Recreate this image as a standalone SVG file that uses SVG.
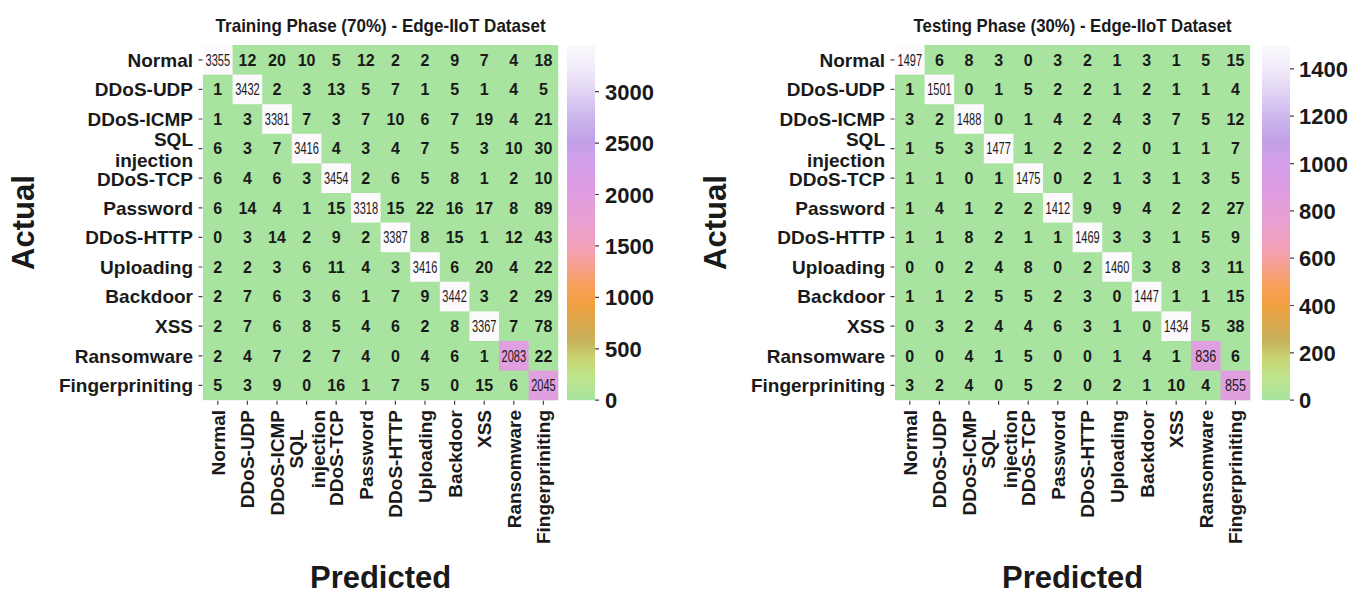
<svg xmlns="http://www.w3.org/2000/svg" width="1367" height="596" viewBox="0 0 1367 596">
<style>
text{font-family:"Liberation Sans",Arial,Helvetica,sans-serif;fill:#1a1a1a}
.cells text{font-size:16px;font-weight:700;text-anchor:middle}
.cells text.d{font-size:16px;font-weight:400}
.rl text{font-size:19px;font-weight:700;text-anchor:end}
.ck text{font-size:22px;font-weight:700}
.ax{font-size:31px;font-weight:700;text-anchor:middle}
.ti{font-size:19px;font-weight:700;text-anchor:middle}
.tk{stroke:#444;stroke-width:1.2}
.dg{fill:#fcfafd}
.hi{fill:#e0a0e0}
.bg{fill:#a8e4a0}
</style>
<defs>
<linearGradient id="cmap" x1="0" y1="1" x2="0" y2="0">
<stop offset="0" stop-color="#a6e4a0"/>
<stop offset="0.07" stop-color="#c0e48a"/>
<stop offset="0.12" stop-color="#c8d470"/>
<stop offset="0.17" stop-color="#c8b058"/>
<stop offset="0.21" stop-color="#d8a850"/>
<stop offset="0.27" stop-color="#f2a040"/>
<stop offset="0.32" stop-color="#f6a058"/>
<stop offset="0.38" stop-color="#f6a092"/>
<stop offset="0.43" stop-color="#f4a0b8"/>
<stop offset="0.5" stop-color="#e8a0d0"/>
<stop offset="0.58" stop-color="#e09ce0"/>
<stop offset="0.67" stop-color="#d4a0ec"/>
<stop offset="0.73" stop-color="#c0a0e8"/>
<stop offset="0.8" stop-color="#cdb8ee"/>
<stop offset="0.88" stop-color="#e4d8f4"/>
<stop offset="0.95" stop-color="#f4eff9"/>
<stop offset="1" stop-color="#fbf9fd"/>
</linearGradient>
</defs>
<rect width="1367" height="596" fill="#ffffff"/>

<!-- LEFT PANEL: Training -->
<g id="training">
<text class="ti" x="380.6" y="32" textLength="330" lengthAdjust="spacingAndGlyphs">Training Phase (70%) - Edge-IIoT Dataset</text>
<g id="train-grid">
<rect class="bg" x="203" y="45" width="355.2" height="355.2"/>
<rect class="dg" x="203" y="45" width="29.6" height="29.6"/>
<rect class="dg" x="232.6" y="74.6" width="29.6" height="29.6"/>
<rect class="dg" x="262.2" y="104.2" width="29.6" height="29.6"/>
<rect class="dg" x="291.8" y="133.8" width="29.6" height="29.6"/>
<rect class="dg" x="321.4" y="163.4" width="29.6" height="29.6"/>
<rect class="dg" x="351" y="193" width="29.6" height="29.6"/>
<rect class="dg" x="380.6" y="222.6" width="29.6" height="29.6"/>
<rect class="dg" x="410.2" y="252.2" width="29.6" height="29.6"/>
<rect class="dg" x="439.8" y="281.8" width="29.6" height="29.6"/>
<rect class="dg" x="469.4" y="311.4" width="29.6" height="29.6"/>
<rect class="hi" x="499" y="341" width="29.6" height="29.6"/>
<rect class="hi" x="528.6" y="370.6" width="29.6" height="29.6"/>
</g>
<g class="cells" id="train-values">
<g transform="translate(0,65.6)"><text class="d" x="217.8" textLength="24.5" lengthAdjust="spacingAndGlyphs">3355</text><text x="247.4">12</text><text x="277">20</text><text x="306.6">10</text><text x="336.2">5</text><text x="365.8">12</text><text x="395.4">2</text><text x="425">2</text><text x="454.6">9</text><text x="484.2">7</text><text x="513.8">4</text><text x="543.4">18</text></g>
<g transform="translate(0,95.2)"><text x="217.8">1</text><text class="d" x="247.4" textLength="24.5" lengthAdjust="spacingAndGlyphs">3432</text><text x="277">2</text><text x="306.6">3</text><text x="336.2">13</text><text x="365.8">5</text><text x="395.4">7</text><text x="425">1</text><text x="454.6">5</text><text x="484.2">1</text><text x="513.8">4</text><text x="543.4">5</text></g>
<g transform="translate(0,124.8)"><text x="217.8">1</text><text x="247.4">3</text><text class="d" x="277" textLength="24.5" lengthAdjust="spacingAndGlyphs">3381</text><text x="306.6">7</text><text x="336.2">3</text><text x="365.8">7</text><text x="395.4">10</text><text x="425">6</text><text x="454.6">7</text><text x="484.2">19</text><text x="513.8">4</text><text x="543.4">21</text></g>
<g transform="translate(0,154.4)"><text x="217.8">6</text><text x="247.4">3</text><text x="277">7</text><text class="d" x="306.6" textLength="24.5" lengthAdjust="spacingAndGlyphs">3416</text><text x="336.2">4</text><text x="365.8">3</text><text x="395.4">4</text><text x="425">7</text><text x="454.6">5</text><text x="484.2">3</text><text x="513.8">10</text><text x="543.4">30</text></g>
<g transform="translate(0,184)"><text x="217.8">6</text><text x="247.4">4</text><text x="277">6</text><text x="306.6">3</text><text class="d" x="336.2" textLength="24.5" lengthAdjust="spacingAndGlyphs">3454</text><text x="365.8">2</text><text x="395.4">6</text><text x="425">5</text><text x="454.6">8</text><text x="484.2">1</text><text x="513.8">2</text><text x="543.4">10</text></g>
<g transform="translate(0,213.6)"><text x="217.8">6</text><text x="247.4">14</text><text x="277">4</text><text x="306.6">1</text><text x="336.2">15</text><text class="d" x="365.8" textLength="24.5" lengthAdjust="spacingAndGlyphs">3318</text><text x="395.4">15</text><text x="425">22</text><text x="454.6">16</text><text x="484.2">17</text><text x="513.8">8</text><text x="543.4">89</text></g>
<g transform="translate(0,243.2)"><text x="217.8">0</text><text x="247.4">3</text><text x="277">14</text><text x="306.6">2</text><text x="336.2">9</text><text x="365.8">2</text><text class="d" x="395.4" textLength="24.5" lengthAdjust="spacingAndGlyphs">3387</text><text x="425">8</text><text x="454.6">15</text><text x="484.2">1</text><text x="513.8">12</text><text x="543.4">43</text></g>
<g transform="translate(0,272.8)"><text x="217.8">2</text><text x="247.4">2</text><text x="277">3</text><text x="306.6">6</text><text x="336.2">11</text><text x="365.8">4</text><text x="395.4">3</text><text class="d" x="425" textLength="24.5" lengthAdjust="spacingAndGlyphs">3416</text><text x="454.6">6</text><text x="484.2">20</text><text x="513.8">4</text><text x="543.4">22</text></g>
<g transform="translate(0,302.4)"><text x="217.8">2</text><text x="247.4">7</text><text x="277">6</text><text x="306.6">3</text><text x="336.2">6</text><text x="365.8">1</text><text x="395.4">7</text><text x="425">9</text><text class="d" x="454.6" textLength="24.5" lengthAdjust="spacingAndGlyphs">3442</text><text x="484.2">3</text><text x="513.8">2</text><text x="543.4">29</text></g>
<g transform="translate(0,332)"><text x="217.8">2</text><text x="247.4">7</text><text x="277">6</text><text x="306.6">8</text><text x="336.2">5</text><text x="365.8">4</text><text x="395.4">6</text><text x="425">2</text><text x="454.6">8</text><text class="d" x="484.2" textLength="24.5" lengthAdjust="spacingAndGlyphs">3367</text><text x="513.8">7</text><text x="543.4">78</text></g>
<g transform="translate(0,361.6)"><text x="217.8">2</text><text x="247.4">4</text><text x="277">7</text><text x="306.6">2</text><text x="336.2">7</text><text x="365.8">4</text><text x="395.4">0</text><text x="425">4</text><text x="454.6">6</text><text x="484.2">1</text><text class="d" x="513.8" textLength="24.5" lengthAdjust="spacingAndGlyphs">2083</text><text x="543.4">22</text></g>
<g transform="translate(0,391.2)"><text x="217.8">5</text><text x="247.4">3</text><text x="277">9</text><text x="306.6">0</text><text x="336.2">16</text><text x="365.8">1</text><text x="395.4">7</text><text x="425">5</text><text x="454.6">0</text><text x="484.2">15</text><text x="513.8">6</text><text class="d" x="543.4" textLength="24.5" lengthAdjust="spacingAndGlyphs">2045</text></g>
</g>
</g>

<g id="train-axes">
<g class="rl">
<text x="193" y="66.6">Normal</text>
<text x="193" y="96.2">DDoS-UDP</text>
<text x="193" y="125.8">DDoS-ICMP</text>
<text x="193" y="145.5">SQL</text>
<text x="193" y="167">injection</text>
<text x="193" y="185.5">DDoS-TCP</text>
<text x="193" y="214.6">Password</text>
<text x="193" y="244.2">DDoS-HTTP</text>
<text x="193" y="273.8">Uploading</text>
<text x="193" y="303.4">Backdoor</text>
<text x="193" y="333">XSS</text>
<text x="193" y="362.6">Ransomware</text>
<text x="193" y="392.2">Fingerpriniting</text>
</g>
<g class="rl">
<text transform="translate(224.8,410) rotate(-90)">Normal</text>
<text transform="translate(254.4,410) rotate(-90)">DDoS-UDP</text>
<text transform="translate(284,410) rotate(-90)">DDoS-ICMP</text>
<text transform="translate(302.6,449) rotate(-90)" style="text-anchor:middle">SQL</text>
<text transform="translate(324.6,410) rotate(-90)">injection</text>
<text transform="translate(343.2,410) rotate(-90)">DDoS-TCP</text>
<text transform="translate(372.8,410) rotate(-90)">Password</text>
<text transform="translate(402.4,410) rotate(-90)">DDoS-HTTP</text>
<text transform="translate(432,410) rotate(-90)">Uploading</text>
<text transform="translate(461.6,410) rotate(-90)">Backdoor</text>
<text transform="translate(491.2,410) rotate(-90)">XSS</text>
<text transform="translate(520.8,410) rotate(-90)">Ransomware</text>
<text transform="translate(550.4,410) rotate(-90)">Fingerpriniting</text>
</g>
<path class="tk" d="M198.5 59.8H202.5M198.5 89.4H202.5M198.5 119H202.5M198.5 148.6H202.5M198.5 178.2H202.5M198.5 207.8H202.5M198.5 237.4H202.5M198.5 267H202.5M198.5 296.6H202.5M198.5 326.2H202.5M198.5 355.8H202.5M198.5 385.4H202.5M217.8 400.7V404.7M247.4 400.7V404.7M277 400.7V404.7M306.6 400.7V404.7M336.2 400.7V404.7M365.8 400.7V404.7M395.4 400.7V404.7M425 400.7V404.7M454.6 400.7V404.7M484.2 400.7V404.7M513.8 400.7V404.7M543.4 400.7V404.7"/>
<text class="ax" transform="translate(34,222.6) rotate(-90)">Actual</text>
<text class="ax" x="380.6" y="588">Predicted</text>
</g>

<g id="train-colorbar">
<rect x="567" y="45" width="28" height="355.2" fill="url(#cmap)"/>
<path class="tk" d="M595 400.2H599M595 348.8H599M595 297.4H599M595 245.9H599M595 194.5H599M595 143.1H599M595 91.7H599"/>
<g class="ck">
<text x="605" y="408.2">0</text>
<text x="605" y="356.8">500</text>
<text x="605" y="305.4">1000</text>
<text x="605" y="253.9">1500</text>
<text x="605" y="202.5">2000</text>
<text x="605" y="151.1">2500</text>
<text x="605" y="99.7">3000</text>
</g>
</g>

<!-- RIGHT PANEL: Testing (same layout shifted by 692) -->
<g id="testing" transform="translate(692,0)">
<text class="ti" x="380.6" y="32" textLength="318" lengthAdjust="spacingAndGlyphs">Testing Phase (30%) - Edge-IIoT Dataset</text>
<g id="test-grid">
<rect class="bg" x="203" y="45" width="355.2" height="355.2"/>
<rect class="dg" x="203" y="45" width="29.6" height="29.6"/>
<rect class="dg" x="232.6" y="74.6" width="29.6" height="29.6"/>
<rect class="dg" x="262.2" y="104.2" width="29.6" height="29.6"/>
<rect class="dg" x="291.8" y="133.8" width="29.6" height="29.6"/>
<rect class="dg" x="321.4" y="163.4" width="29.6" height="29.6"/>
<rect class="dg" x="351" y="193" width="29.6" height="29.6"/>
<rect class="dg" x="380.6" y="222.6" width="29.6" height="29.6"/>
<rect class="dg" x="410.2" y="252.2" width="29.6" height="29.6"/>
<rect class="dg" x="439.8" y="281.8" width="29.6" height="29.6"/>
<rect class="dg" x="469.4" y="311.4" width="29.6" height="29.6"/>
<rect class="hi" x="499" y="341" width="29.6" height="29.6"/>
<rect class="hi" x="528.6" y="370.6" width="29.6" height="29.6"/>
</g>
<g class="cells" id="test-values">
<g transform="translate(0,65.6)"><text class="d" x="217.8" textLength="24.5" lengthAdjust="spacingAndGlyphs">1497</text><text x="247.4">6</text><text x="277">8</text><text x="306.6">3</text><text x="336.2">0</text><text x="365.8">3</text><text x="395.4">2</text><text x="425">1</text><text x="454.6">3</text><text x="484.2">1</text><text x="513.8">5</text><text x="543.4">15</text></g>
<g transform="translate(0,95.2)"><text x="217.8">1</text><text class="d" x="247.4" textLength="24.5" lengthAdjust="spacingAndGlyphs">1501</text><text x="277">0</text><text x="306.6">1</text><text x="336.2">5</text><text x="365.8">2</text><text x="395.4">2</text><text x="425">1</text><text x="454.6">2</text><text x="484.2">1</text><text x="513.8">1</text><text x="543.4">4</text></g>
<g transform="translate(0,124.8)"><text x="217.8">3</text><text x="247.4">2</text><text class="d" x="277" textLength="24.5" lengthAdjust="spacingAndGlyphs">1488</text><text x="306.6">0</text><text x="336.2">1</text><text x="365.8">4</text><text x="395.4">2</text><text x="425">4</text><text x="454.6">3</text><text x="484.2">7</text><text x="513.8">5</text><text x="543.4">12</text></g>
<g transform="translate(0,154.4)"><text x="217.8">1</text><text x="247.4">5</text><text x="277">3</text><text class="d" x="306.6" textLength="24.5" lengthAdjust="spacingAndGlyphs">1477</text><text x="336.2">1</text><text x="365.8">2</text><text x="395.4">2</text><text x="425">2</text><text x="454.6">0</text><text x="484.2">1</text><text x="513.8">1</text><text x="543.4">7</text></g>
<g transform="translate(0,184)"><text x="217.8">1</text><text x="247.4">1</text><text x="277">0</text><text x="306.6">1</text><text class="d" x="336.2" textLength="24.5" lengthAdjust="spacingAndGlyphs">1475</text><text x="365.8">0</text><text x="395.4">2</text><text x="425">1</text><text x="454.6">3</text><text x="484.2">1</text><text x="513.8">3</text><text x="543.4">5</text></g>
<g transform="translate(0,213.6)"><text x="217.8">1</text><text x="247.4">4</text><text x="277">1</text><text x="306.6">2</text><text x="336.2">2</text><text class="d" x="365.8" textLength="24.5" lengthAdjust="spacingAndGlyphs">1412</text><text x="395.4">9</text><text x="425">9</text><text x="454.6">4</text><text x="484.2">2</text><text x="513.8">2</text><text x="543.4">27</text></g>
<g transform="translate(0,243.2)"><text x="217.8">1</text><text x="247.4">1</text><text x="277">8</text><text x="306.6">2</text><text x="336.2">1</text><text x="365.8">1</text><text class="d" x="395.4" textLength="24.5" lengthAdjust="spacingAndGlyphs">1469</text><text x="425">3</text><text x="454.6">3</text><text x="484.2">1</text><text x="513.8">5</text><text x="543.4">9</text></g>
<g transform="translate(0,272.8)"><text x="217.8">0</text><text x="247.4">0</text><text x="277">2</text><text x="306.6">4</text><text x="336.2">8</text><text x="365.8">0</text><text x="395.4">2</text><text class="d" x="425" textLength="24.5" lengthAdjust="spacingAndGlyphs">1460</text><text x="454.6">3</text><text x="484.2">8</text><text x="513.8">3</text><text x="543.4">11</text></g>
<g transform="translate(0,302.4)"><text x="217.8">1</text><text x="247.4">1</text><text x="277">2</text><text x="306.6">5</text><text x="336.2">5</text><text x="365.8">2</text><text x="395.4">3</text><text x="425">0</text><text class="d" x="454.6" textLength="24.5" lengthAdjust="spacingAndGlyphs">1447</text><text x="484.2">1</text><text x="513.8">1</text><text x="543.4">15</text></g>
<g transform="translate(0,332)"><text x="217.8">0</text><text x="247.4">3</text><text x="277">2</text><text x="306.6">4</text><text x="336.2">4</text><text x="365.8">6</text><text x="395.4">3</text><text x="425">1</text><text x="454.6">0</text><text class="d" x="484.2" textLength="24.5" lengthAdjust="spacingAndGlyphs">1434</text><text x="513.8">5</text><text x="543.4">38</text></g>
<g transform="translate(0,361.6)"><text x="217.8">0</text><text x="247.4">0</text><text x="277">4</text><text x="306.6">1</text><text x="336.2">5</text><text x="365.8">0</text><text x="395.4">0</text><text x="425">1</text><text x="454.6">4</text><text x="484.2">1</text><text class="d" x="513.8" textLength="21" lengthAdjust="spacingAndGlyphs">836</text><text x="543.4">6</text></g>
<g transform="translate(0,391.2)"><text x="217.8">3</text><text x="247.4">2</text><text x="277">4</text><text x="306.6">0</text><text x="336.2">5</text><text x="365.8">2</text><text x="395.4">0</text><text x="425">2</text><text x="454.6">1</text><text x="484.2">10</text><text x="513.8">4</text><text class="d" x="543.4" textLength="21" lengthAdjust="spacingAndGlyphs">855</text></g>
</g>
<g id="test-axes">
<g class="rl">
<text x="193" y="66.6">Normal</text>
<text x="193" y="96.2">DDoS-UDP</text>
<text x="193" y="125.8">DDoS-ICMP</text>
<text x="193" y="145.5">SQL</text>
<text x="193" y="167">injection</text>
<text x="193" y="185.5">DDoS-TCP</text>
<text x="193" y="214.6">Password</text>
<text x="193" y="244.2">DDoS-HTTP</text>
<text x="193" y="273.8">Uploading</text>
<text x="193" y="303.4">Backdoor</text>
<text x="193" y="333">XSS</text>
<text x="193" y="362.6">Ransomware</text>
<text x="193" y="392.2">Fingerpriniting</text>
</g>
<g class="rl">
<text transform="translate(224.8,410) rotate(-90)">Normal</text>
<text transform="translate(254.4,410) rotate(-90)">DDoS-UDP</text>
<text transform="translate(284,410) rotate(-90)">DDoS-ICMP</text>
<text transform="translate(302.6,449) rotate(-90)" style="text-anchor:middle">SQL</text>
<text transform="translate(324.6,410) rotate(-90)">injection</text>
<text transform="translate(343.2,410) rotate(-90)">DDoS-TCP</text>
<text transform="translate(372.8,410) rotate(-90)">Password</text>
<text transform="translate(402.4,410) rotate(-90)">DDoS-HTTP</text>
<text transform="translate(432,410) rotate(-90)">Uploading</text>
<text transform="translate(461.6,410) rotate(-90)">Backdoor</text>
<text transform="translate(491.2,410) rotate(-90)">XSS</text>
<text transform="translate(520.8,410) rotate(-90)">Ransomware</text>
<text transform="translate(550.4,410) rotate(-90)">Fingerpriniting</text>
</g>
<path class="tk" d="M198.5 59.8H202.5M198.5 89.4H202.5M198.5 119H202.5M198.5 148.6H202.5M198.5 178.2H202.5M198.5 207.8H202.5M198.5 237.4H202.5M198.5 267H202.5M198.5 296.6H202.5M198.5 326.2H202.5M198.5 355.8H202.5M198.5 385.4H202.5M217.8 400.7V404.7M247.4 400.7V404.7M277 400.7V404.7M306.6 400.7V404.7M336.2 400.7V404.7M365.8 400.7V404.7M395.4 400.7V404.7M425 400.7V404.7M454.6 400.7V404.7M484.2 400.7V404.7M513.8 400.7V404.7M543.4 400.7V404.7"/>
<text class="ax" transform="translate(34,222.6) rotate(-90)">Actual</text>
<text class="ax" x="380.6" y="588">Predicted</text>
</g>
<g id="test-colorbar">
<rect x="570" y="45" width="28" height="355.2" fill="url(#cmap)"/>
<path class="tk" d="M598 400.2H602M598 352.9H602M598 305.5H602M598 258.2H602M598 210.9H602M598 163.6H602M598 116.2H602M598 68.9H602"/>
<g class="ck">
<text x="607" y="408.2">0</text>
<text x="607" y="360.9">200</text>
<text x="607" y="313.5">400</text>
<text x="607" y="266.2">600</text>
<text x="607" y="218.9">800</text>
<text x="607" y="171.6">1000</text>
<text x="607" y="124.2">1200</text>
<text x="607" y="76.9">1400</text>
</g>
</g>
</g>
</svg>
